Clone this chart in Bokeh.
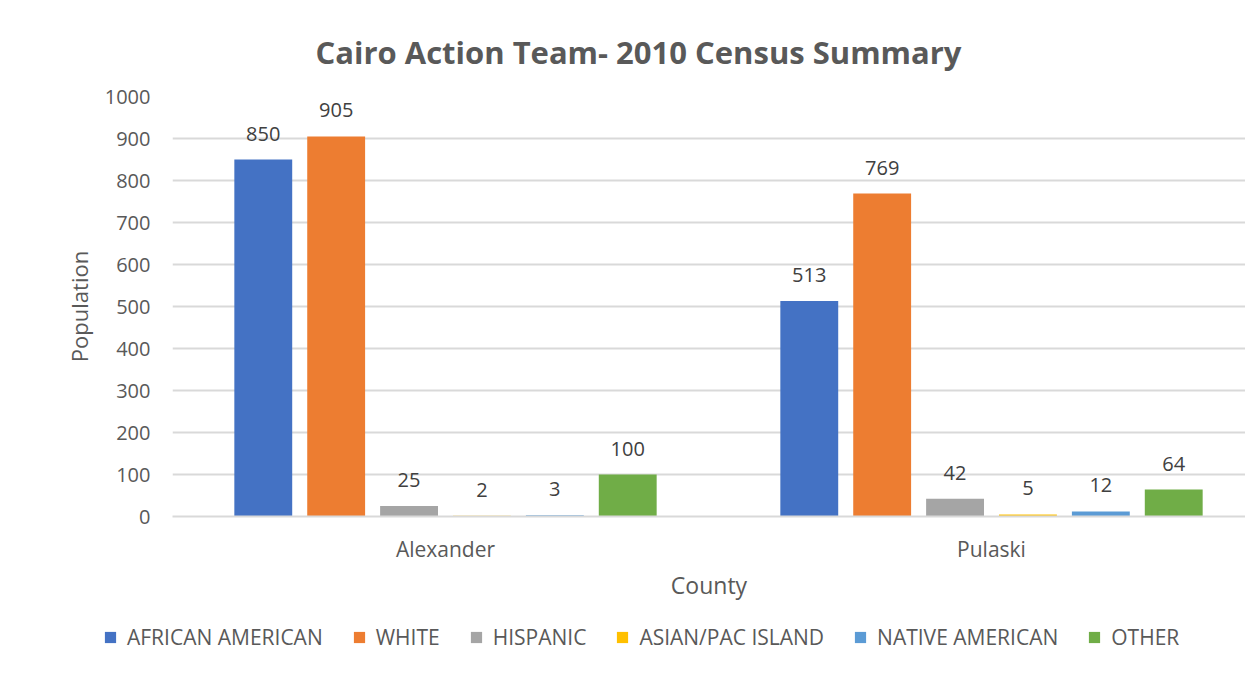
from bokeh.plotting import figure
from bokeh.layouts import column
from bokeh.models import Range1d, FixedTicker, Legend, LegendItem, ColumnDataSource
from bokeh.core.properties import value
from bokeh.embed import file_html
from bokeh.resources import INLINE

# ---- data ----
title_text = "Cairo Action Team- 2010 Census Summary"
counties = ["Alexander", "Pulaski"]
groups = ["AFRICAN AMERICAN", "WHITE", "HISPANIC", "ASIAN/PAC ISLAND", "NATIVE AMERICAN", "OTHER"]
african_american = [850, 513]
white = [905, 769]
hispanic = [25, 42]
asian_pac_island = [2, 5]
native_american = [3, 12]
other = [100, 64]
y_ticks = [0, 100, 200, 300, 400, 500, 600, 700, 800, 900, 1000]

series = [african_american, white, hispanic, asian_pac_island, native_american, other]
colors = ["#4472C4", "#ED7D31", "#A5A5A5", "#FFC000", "#5B9BD5", "#70AD47"]

FONT = "Open Sans"
TXT = "#595959"

W, H_MAIN, H_LEG = 1245, 620, 55
p = figure(width=W, height=H_MAIN, output_backend="svg", toolbar_location=None,
           x_range=Range1d(0, 1.9652), y_range=Range1d(0, 1000),
           min_border_left=172, min_border_right=0, min_border_top=96,
           min_border_bottom=H_MAIN - 96 - 420)
p.outline_line_color = None
p.background_fill_color = "white"
p.border_fill_color = "white"

p.title.text = title_text
p.title.align = "left"
p.title.offset = 143
p.title.text_font = FONT
p.title.text_font_size = "31px"
p.title.text_font_style = "bold"
p.title.text_color = TXT
p.title.standoff = 47

step = 0.1335
bw = 0.106
for j, (vals, col) in enumerate(zip(series, colors)):
    xs = [i + 0.5 + (j - 2.5) * step for i in range(len(counties))]
    src = ColumnDataSource(dict(x=xs, top=vals, lab=[str(v) for v in vals]))
    p.vbar(x="x", top="top", width=bw, source=src, fill_color=col, line_color=None)
    p.text(x="x", y="top", text="lab", source=src, text_align="center",
           text_baseline="bottom", y_offset=-19, text_font=value(FONT),
           text_font_size="20px", text_color="#404040")

# axes
p.yaxis.ticker = FixedTicker(ticks=y_ticks)
p.yaxis.axis_line_color = None
p.yaxis.major_tick_line_color = None
p.yaxis.minor_tick_line_color = None
p.yaxis.major_label_text_font = FONT
p.yaxis.major_label_text_font_size = "20px"
p.yaxis.major_label_text_color = TXT
p.yaxis.major_label_standoff = 16
p.yaxis.axis_label = "Population"
p.yaxis.axis_label_text_font = FONT
p.yaxis.axis_label_text_font_size = "22px"
p.yaxis.axis_label_text_font_style = "normal"
p.yaxis.axis_label_text_color = TXT
p.yaxis.axis_label_standoff = 8

p.xaxis.ticker = FixedTicker(ticks=[i + 0.5 for i in range(len(counties))])
p.xaxis.major_label_overrides = {i + 0.5: c for i, c in enumerate(counties)}
p.xaxis.axis_line_color = "#d9d9d9"
p.xaxis.axis_line_width = 2
p.xaxis.major_tick_line_color = None
p.xaxis.minor_tick_line_color = None
p.xaxis.major_label_text_font = FONT
p.xaxis.major_label_text_font_size = "21px"
p.xaxis.major_label_text_color = TXT
p.xaxis.major_label_standoff = 12
p.xaxis.axis_label = "County"
p.xaxis.axis_label_text_font = FONT
p.xaxis.axis_label_text_font_size = "23px"
p.xaxis.axis_label_text_font_style = "normal"
p.xaxis.axis_label_text_color = TXT
p.xaxis.axis_label_standoff = 3

p.xgrid.grid_line_color = None
p.ygrid.ticker = FixedTicker(ticks=y_ticks)
p.ygrid.grid_line_color = "#d9d9d9"
p.ygrid.grid_line_width = 2

# legend strip
lf = figure(width=W, height=H_LEG, output_backend="svg", toolbar_location=None,
            x_range=Range1d(0, 1), y_range=Range1d(0, 1),
            x_axis_type=None, y_axis_type=None,
            min_border_left=0, min_border_right=0, min_border_top=0, min_border_bottom=0)
if "frame_align" in lf.properties():
    lf.frame_align = False
    p.frame_align = False
lf.outline_line_color = None
lf.background_fill_color = "white"
lf.border_fill_color = "white"
# legend swatches: glyphs whose data lie far outside the strip's visible range
leg_renderers = [lf.vbar(x=[0.5], bottom=[-100], top=[-99], width=0.1,
                         fill_color=c, line_color=None)
                 for c in colors]
legend = Legend(items=[LegendItem(label=g, renderers=[r]) for g, r in zip(groups, leg_renderers)],
                orientation="horizontal", location=(103, 24),
                label_text_font=FONT, label_text_font_size="21px", label_text_color=TXT,
                glyph_width=14, glyph_height=14, label_standoff=10, spacing=29,
                padding=0, margin=0, border_line_color=None, background_fill_alpha=0)
lf.add_layout(legend, "center")

layout = column(p, lf, spacing=0)
open("out.html", "w").write(file_html(layout, INLINE))
